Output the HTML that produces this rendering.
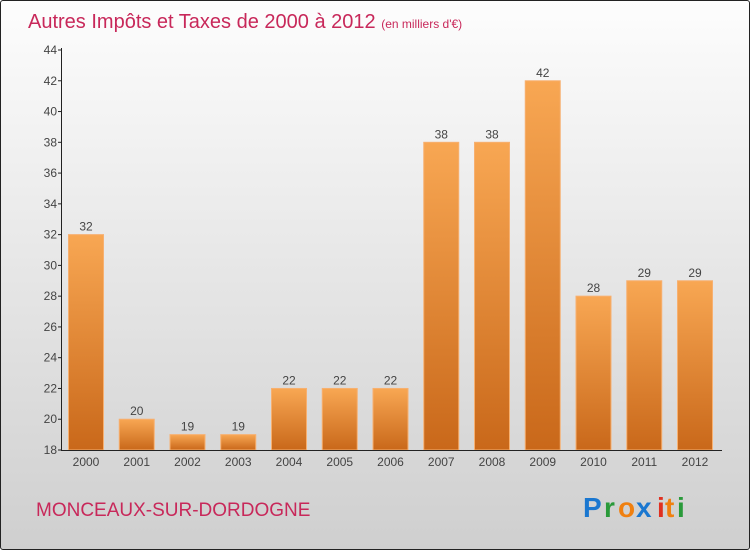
<!DOCTYPE html>
<html><head><meta charset="utf-8"><style>
body{margin:0;width:750px;height:550px;overflow:hidden}
#wrap{position:absolute;left:0;top:0;width:748px;height:548px;border:1px solid #222;border-radius:3px;background:linear-gradient(#fdfdfd,#cfcfcf);font-family:"Liberation Sans",sans-serif}
</style></head><body>
<div id="wrap">
<svg id="svg" width="750" height="550" style="position:absolute;left:-1px;top:-1px">
<defs><linearGradient id="bg" x1="0" y1="0" x2="0" y2="1"><stop offset="0" stop-color="#f8a753"/><stop offset="1" stop-color="#c9681a"/></linearGradient></defs>
<text x="28" y="28" font-size="20" fill="#c8285a">Autres Impôts et Taxes de 2000 à 2012 <tspan font-size="12">(en milliers d'€)</tspan></text>
<text x="36" y="516" font-size="19" fill="#c8285a">MONCEAUX-SUR-DORDOGNE</text>
<g font-size="28" font-weight="bold">
<text x="583" y="517" fill="#1a77d0">P</text><text x="604" y="517" fill="#2a9a3a">r</text><text x="618" y="517" fill="#f08010">o</text><text x="636" y="517" fill="#1a77d0">x</text><text x="657" y="517" fill="#e03020">i</text><text x="665" y="517" fill="#f08010">t</text><text x="677" y="517" fill="#2a9a3a">i</text>
</g>
</svg>
</div>
<script>
const years=["2000","2001","2002","2003","2004","2005","2006","2007","2008","2009","2010","2011","2012"];
const values=[32,20,19,19,22,22,22,38,38,42,28,29,29];
const yTicks=[18,20,22,24,26,28,30,32,34,36,38,40,42,44];
const svg=document.getElementById('svg');const NS="http://www.w3.org/2000/svg";
const y=v=>450-(v-18)*400/26;
const x=i=>86+i*50.75;
function mk(t,a,txt){const e=document.createElementNS(NS,t);for(const k in a)e.setAttribute(k,a[k]);if(txt!=null)e.textContent=txt;svg.appendChild(e);return e;}
values.forEach((v,i)=>{
const r=mk('rect',{x:x(i)-17.5,y:y(v),width:35,height:450-y(v),fill:'url(#bg)',stroke:'#f7b070','stroke-width':1});


const t=mk('text',{x:x(i),y:y(v)-4,'font-size':12,fill:'#444','text-anchor':'middle'},String(v));


const xl=mk('text',{x:x(i),y:466,'font-size':12,fill:'#444','text-anchor':'middle'},years[i]);


});
yTicks.forEach(v=>{
const l=mk('line',{x1:58,x2:62,y1:y(v),y2:y(v),stroke:'#222'});


const t=mk('text',{x:57,y:y(v)+4,'font-size':12,fill:'#444','text-anchor':'end'},String(v));


});
const ya=mk('line',{x1:61.5,x2:61.5,y1:48,y2:450,stroke:'#222'});


const xa=mk('line',{x1:61,x2:722,y1:450.5,y2:450.5,stroke:'#222'});


</script>
</body></html>
